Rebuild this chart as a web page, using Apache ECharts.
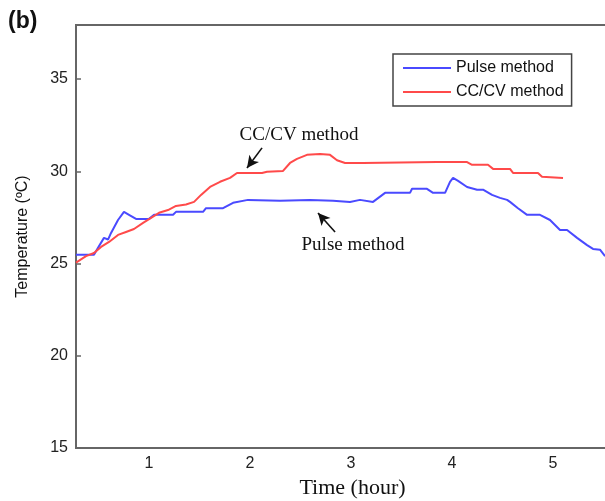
<!DOCTYPE html>
<html>
<head>
<meta charset="utf-8">
<script src="https://cdn.jsdelivr.net/npm/echarts@6/dist/echarts.min.js"></script>
<style>html,body{margin:0;padding:0;background:#fff}#c{width:605px;height:501px}</style>
</head>
<body>
<div id="c"></div>
<script>
// Time (hour) and temperature (°C)
var pulseTime = [0.277,0.455,0.495,0.554,0.594,0.624,0.693,0.752,0.802,0.871,1.0,1.05,1.238,1.267,1.535,1.564,1.733,1.832,1.98,2.297,2.594,2.822,2.99,3.089,3.218,3.337,3.584,3.604,3.752,3.812,3.931,3.98,4.01,4.06,4.149,4.248,4.307,4.396,4.475,4.545,4.574,4.653,4.743,4.871,4.97,5.069,5.139,5.238,5.337,5.396,5.465,5.515];
var pulseTemp = [25.47,25.47,25.85,26.39,26.3,26.66,27.36,27.8,27.64,27.42,27.42,27.64,27.64,27.8,27.8,28.0,28.0,28.29,28.45,28.4,28.45,28.4,28.34,28.45,28.34,28.83,28.83,29.05,29.05,28.83,28.83,29.43,29.64,29.48,29.15,29.0,29.0,28.72,28.56,28.45,28.34,28.0,27.64,27.64,27.36,26.82,26.82,26.39,26.0,25.79,25.75,25.4];
var ccTime = [0.277,0.376,0.455,0.525,0.604,0.693,0.772,0.851,0.941,1.02,1.099,1.188,1.267,1.366,1.446,1.515,1.604,1.703,1.802,1.871,2.119,2.168,2.327,2.396,2.465,2.564,2.693,2.792,2.861,2.941,3.119,3.851,4.149,4.198,4.356,4.406,4.574,4.604,4.851,4.891,5.099];
var ccTemp = [25.05,25.4,25.57,25.9,26.17,26.55,26.71,26.87,27.2,27.47,27.75,27.9,28.12,28.2,28.34,28.72,29.15,29.43,29.64,29.91,29.91,29.97,30.02,30.45,30.67,30.89,30.94,30.89,30.6,30.45,30.45,30.5,30.5,30.35,30.35,30.13,30.13,29.91,29.91,29.7,29.64];
var xTicks = [1,2,3,4,5];
var yTicks = [15,20,25,30,35];
var seriesNames = ['Pulse method','CC/CV method'];
// annotation arrows: [tail, tip] in data coordinates
var ccArrow = [[2.119,31.27],[1.97,30.18]];
var pulseArrow = [[2.842,26.71],[2.673,27.74]];

function zip(a,b){return a.map(function(v,i){return [v,b[i]];});}

var chart = echarts.init(document.getElementById('c'), null, {renderer:'canvas'});
var sans = 'Liberation Sans, Arial, sans-serif';
var serif = 'Liberation Serif, Times New Roman, serif';
chart.setOption({
  animation:false,
  backgroundColor:'#fff',
  grid:{left:76, top:25, width:545, height:423, show:true, borderColor:'#666', borderWidth:2, containLabel:false, outerBoundsMode:'none'},
  legend:{
    data:seriesNames, orient:'vertical', left:393, top:54,
    borderColor:'#444', borderWidth:1.5, padding:[6,8,6,10], itemGap:8,
    icon:'rect', itemWidth:48, itemHeight:2,
    textStyle:{fontFamily:sans, fontSize:16, color:'#111'}
  },
  xAxis:{
    type:'value', min:0.277, max:5.673,
    axisLine:{lineStyle:{color:'#666', width:2}},
    axisTick:{show:false},
    splitLine:{show:false},
    axisLabel:{customValues:xTicks, fontFamily:sans, fontSize:16, color:'#222', margin:8},
    name:'Time (hour)', nameLocation:'middle', nameGap:29,
    nameTextStyle:{fontFamily:serif, fontSize:22, color:'#111', padding:[0,0,0,8]}
  },
  yAxis:{
    type:'value', min:15, max:37.93,
    axisLine:{lineStyle:{color:'#666', width:2}},
    axisTick:{customValues:yTicks, inside:true, length:5, lineStyle:{color:'#666', width:1.5}},
    splitLine:{show:false},
    axisLabel:{customValues:yTicks, fontFamily:sans, fontSize:16, color:'#222', margin:8},
    name:'Temperature (\u00baC)', nameLocation:'middle', nameGap:45,
    nameTextStyle:{fontFamily:sans, fontSize:16, color:'#111'}
  },
  series:[
    {name:seriesNames[0], type:'line', data:zip(pulseTime,pulseTemp), showSymbol:false, symbol:'none',
     lineStyle:{color:'#4a4aff', width:2}, itemStyle:{color:'#4a4aff'},
     markLine:{silent:true, symbol:['none','arrow'], symbolSize:[9,12], label:{show:false},
       lineStyle:{color:'#111', width:1.6, type:'solid'},
       data:[[{coord:pulseArrow[0]},{coord:pulseArrow[1]}]]}},
    {name:seriesNames[1], type:'line', data:zip(ccTime,ccTemp), showSymbol:false, symbol:'none',
     lineStyle:{color:'#ff4a4a', width:2}, itemStyle:{color:'#ff4a4a'},
     markLine:{silent:true, symbol:['none','arrow'], symbolSize:[9,12], label:{show:false},
       lineStyle:{color:'#111', width:1.6, type:'solid'},
       data:[[{coord:ccArrow[0]},{coord:ccArrow[1]}]]}}
  ],
  graphic:[
    {type:'text', left:8, top:10, style:{text:'(b)', font:'bold 23px '+sans, fill:'#111'}},
    {type:'text', x:299, y:135, style:{text:'CC/CV method', font:'19px '+serif, fill:'#111', textAlign:'center', textVerticalAlign:'middle'}},
    {type:'text', x:353, y:245, style:{text:'Pulse method', font:'19px '+serif, fill:'#111', textAlign:'center', textVerticalAlign:'middle'}}
  ]
});
</script>
</body>
</html>
